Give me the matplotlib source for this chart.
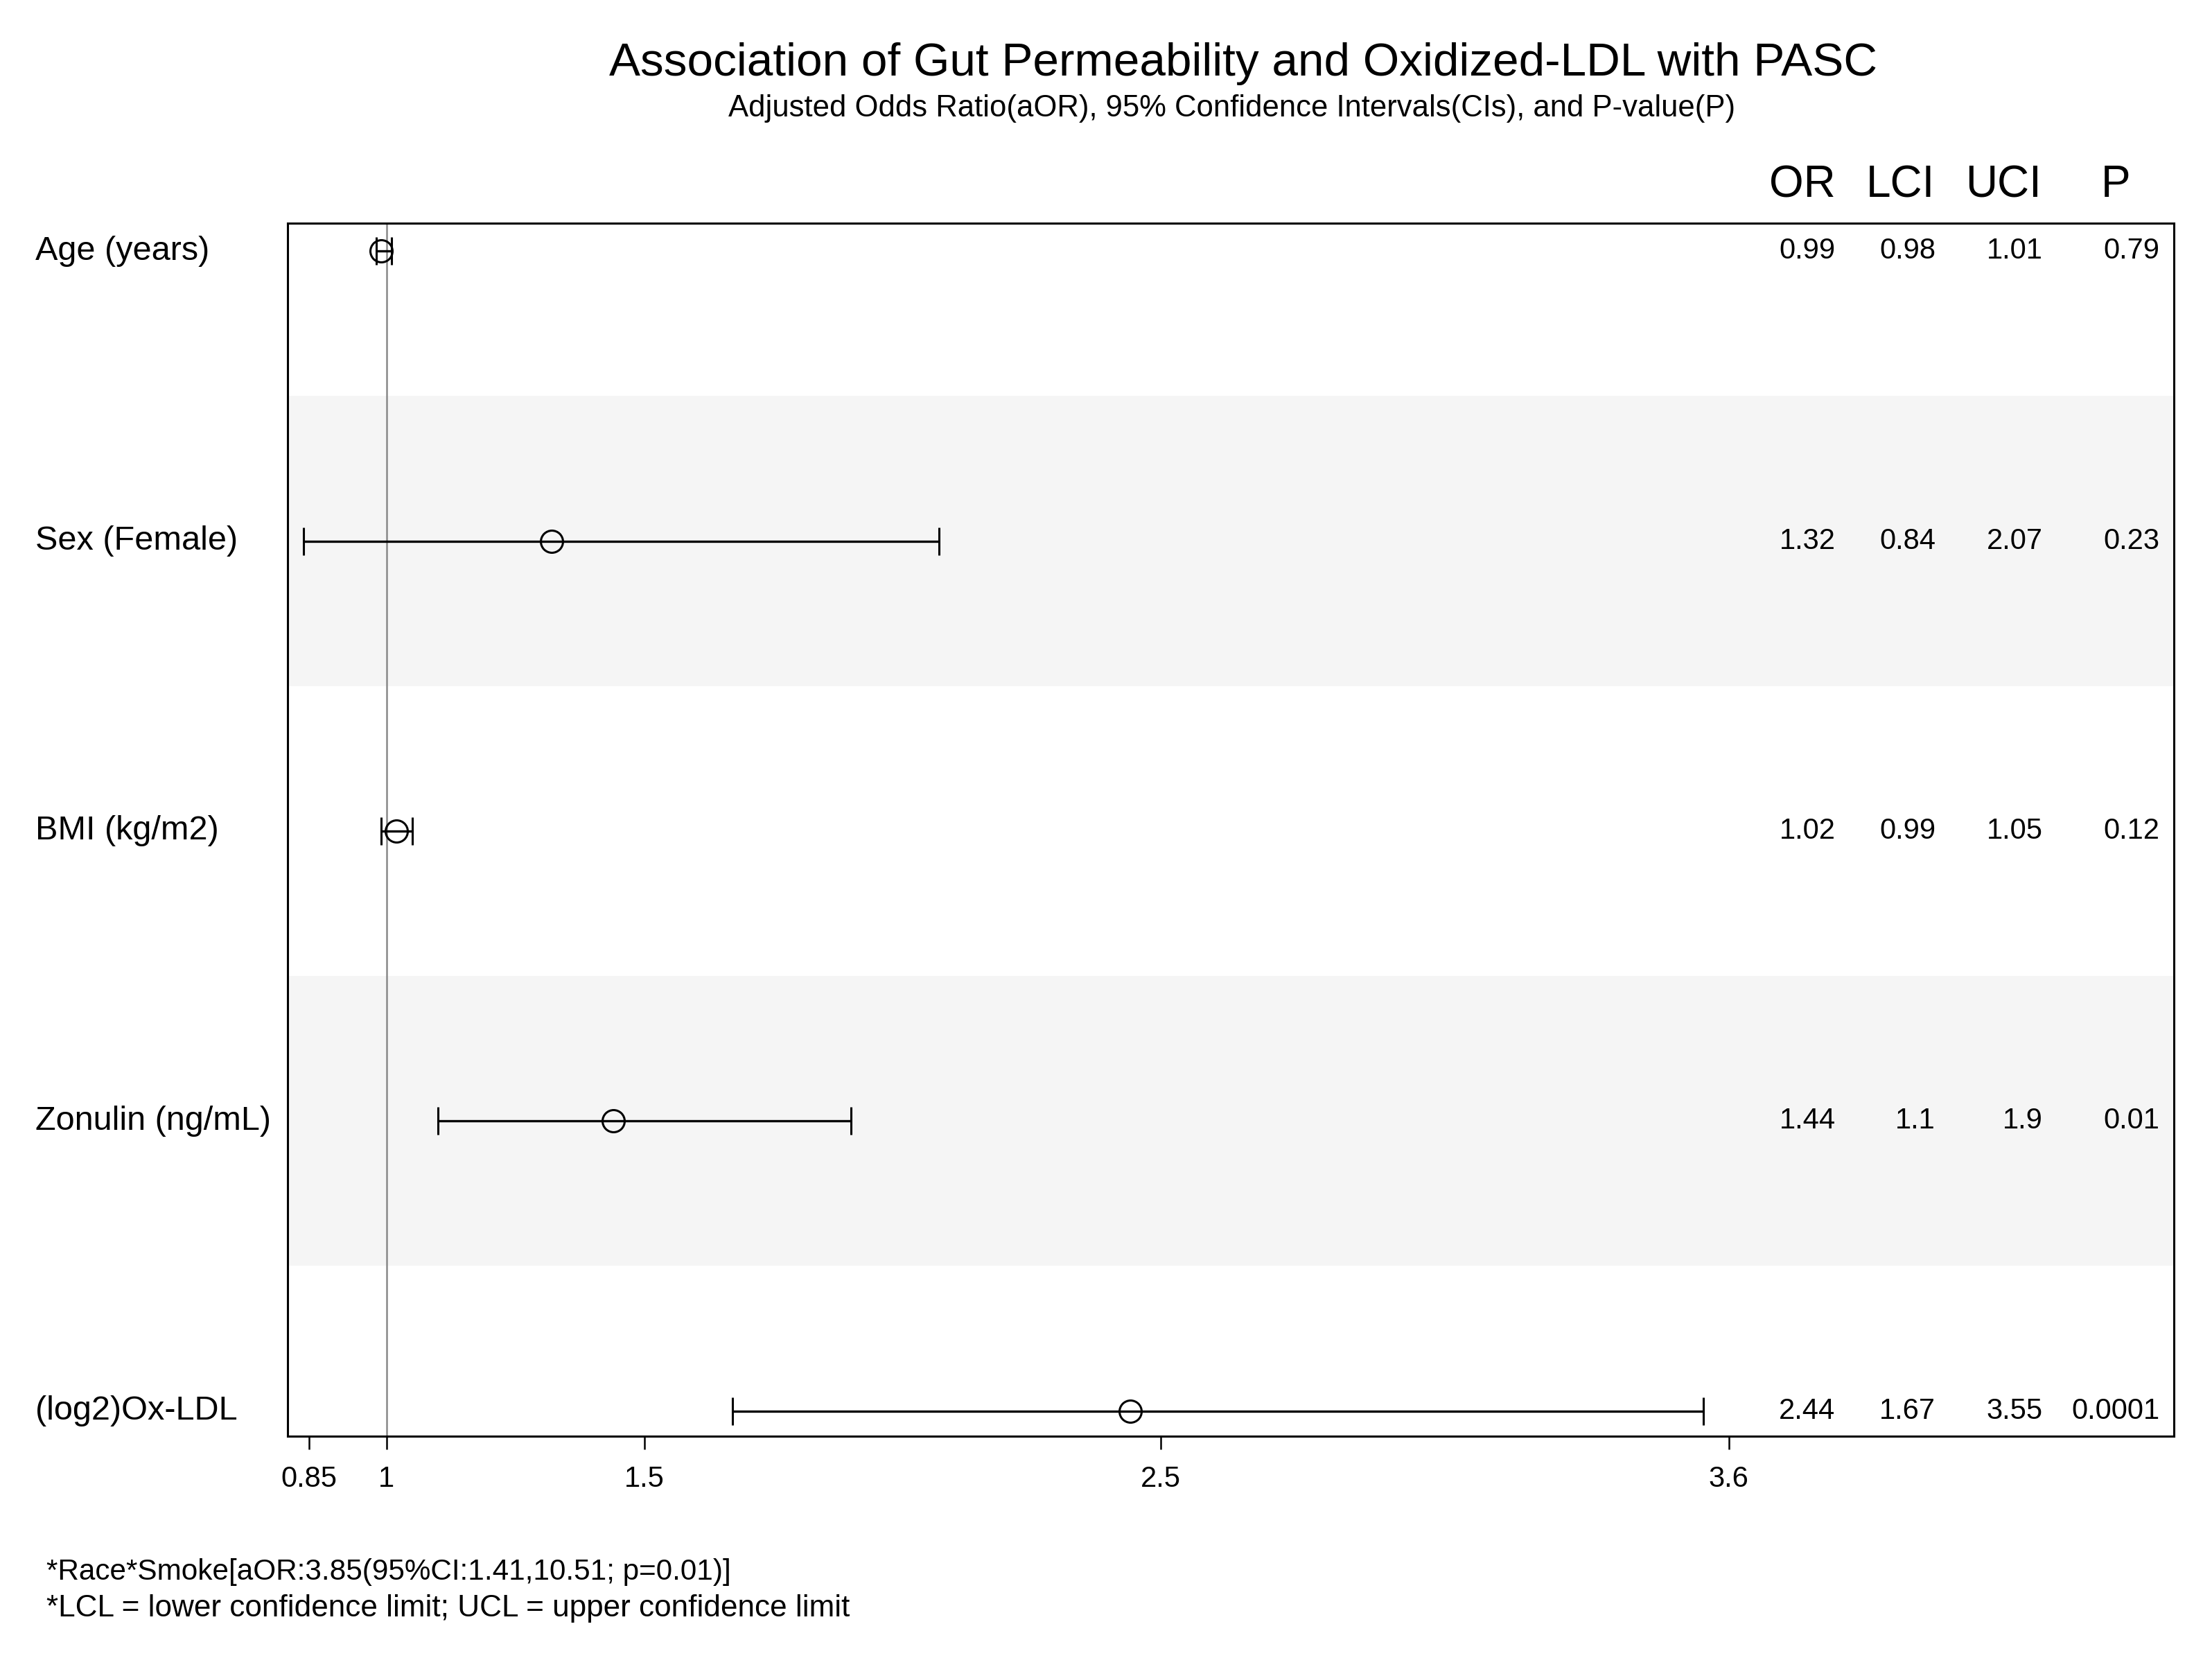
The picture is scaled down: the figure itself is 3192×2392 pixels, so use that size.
import matplotlib
matplotlib.use("Agg")
import matplotlib.pyplot as plt
from matplotlib.transforms import blended_transform_factory

plt.rcParams['font.family'] = ['Liberation Sans', 'DejaVu Sans']

# data
labels = ["Age (years)", "Sex (Female)", "BMI (kg/m2)", "Zonulin (ng/mL)", "(log2)Ox-LDL"]
odds = [0.99, 1.32, 1.02, 1.44, 2.44]
lci = [0.98, 0.84, 0.99, 1.1, 1.67]
uci = [1.01, 2.07, 1.05, 1.9, 3.55]
pvals = ["0.79", "0.23", "0.12", "0.01", "0.0001"]
xticks = [0.85, 1, 1.5, 2.5, 3.6]
xticklabels = ["0.85", "1", "1.5", "2.5", "3.6"]
headers = ["OR", "LCI", "UCI", "P"]
footnotes = ["*Race*Smoke[aOR:3.85(95%CI:1.41,10.51; p=0.01)]",
             "*LCL = lower confidence limit; UCL = upper confidence limit"]

fig = plt.figure(figsize=(15.96, 11.96), dpi=200)
ax = fig.add_axes([0.1301, 0.1336, 0.8527, 0.7319])

n = len(labels)
ypos = [n - i for i in range(n)]  # top row first

# alternating shaded bands
for i, y in enumerate(ypos):
    if i % 2 == 1:
        ax.axhspan(y - 0.5, y + 0.5, color='#f5f5f5', zorder=0, lw=0)

ax.axvline(1, color='#888888', lw=0.9, zorder=1)

xerr = [[o - l for o, l in zip(odds, lci)], [u - o for o, u in zip(odds, uci)]]
ax.errorbar(odds, ypos, xerr=xerr, fmt='o', color='black', ecolor='black',
            elinewidth=1.2, capsize=7.2, capthick=1.0, markersize=11.5,
            markerfacecolor='none', markeredgewidth=1.1, zorder=3)

ax.set_xlim(0.809, 4.462)
ax.set_ylim(0.912, n + 0.097)
ax.set_xticks(xticks)
ax.set_xticklabels(xticklabels, fontsize=15)
ax.set_yticks([])
ax.tick_params(axis='x', direction='out', length=7, width=0.9, pad=8)
for s in ax.spines.values():
    s.set_linewidth(1.1)

# row labels on the left
lab_tr = blended_transform_factory(fig.transFigure, ax.transData)
for lab, y in zip(labels, ypos):
    ax.text(0.016, y, lab, transform=lab_tr, ha='left', va='center', fontsize=17.5)

# numeric columns inside the plot box
col_tr = blended_transform_factory(ax.transAxes, ax.transData)
col_x = [0.8205, 0.8736, 0.9304, 0.9925]
for i, y in enumerate(ypos):
    vals = [f"{odds[i]:g}", f"{lci[i]:g}", f"{uci[i]:g}", pvals[i]]
    for cx, v in zip(col_x, vals):
        ax.text(cx, y, v, transform=col_tr, ha='right', va='center', fontsize=15)

head_x = [0.803, 0.855, 0.9095, 0.969]
for hx, h in zip(head_x, headers):
    ax.text(hx, 1.031, h, transform=ax.transAxes, ha='center', va='center', fontsize=23)

fig.text(0.562, 0.9617, "Association of Gut Permeability and Oxidized-LDL with PASC",
         ha='center', va='center', fontsize=24.3)
fig.text(0.557, 0.9345, "Adjusted Odds Ratio(aOR), 95% Confidence Intervals(CIs), and P-value(P)",
         ha='center', va='center', fontsize=15.7)

fig.text(0.021, 0.0519, footnotes[0], ha='left', va='center', fontsize=15.2)
fig.text(0.021, 0.0298, footnotes[1], ha='left', va='center', fontsize=15.9)

fig.savefig("out.png", dpi=200)
plt.close(fig)
